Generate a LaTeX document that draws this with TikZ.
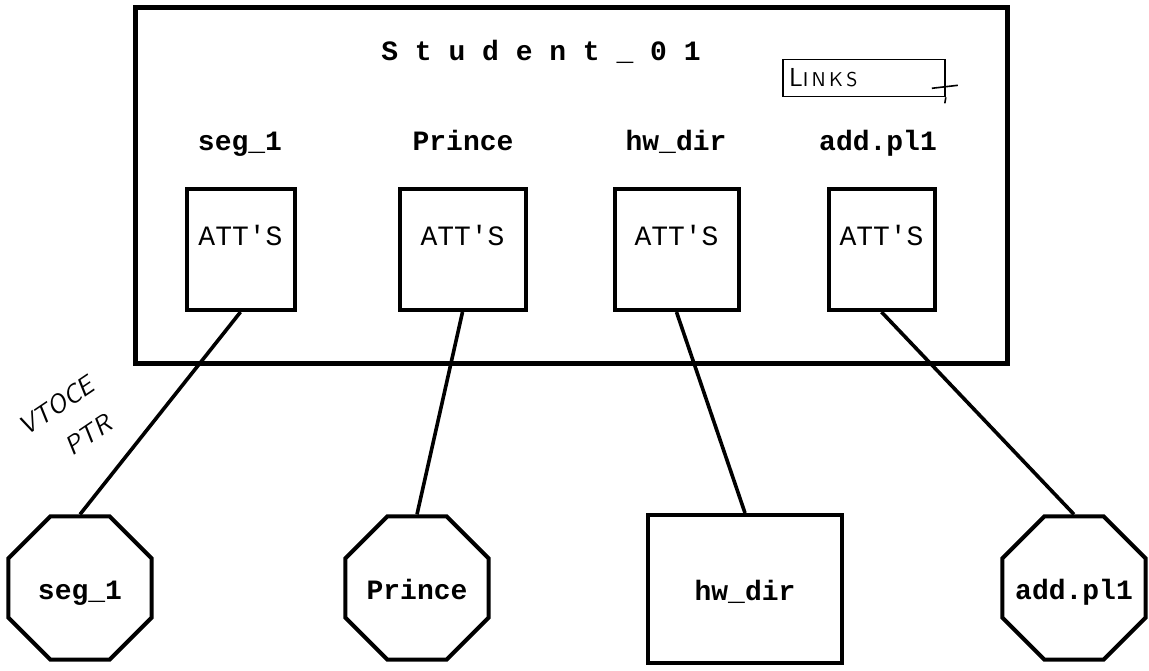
\documentclass[tikz,border=0pt]{standalone}
\usepackage{fontspec}
\setmonofont{Liberation Mono}
\usetikzlibrary{shapes.geometric}

\begin{document}
\begin{tikzpicture}[x=0.5pt, y=-0.5pt,
  every node/.style={font=\ttfamily\fontsize{14}{16}\selectfont},
  lbl/.style={font=\ttfamily\bfseries\fontsize{14}{16}\selectfont},
  att/.style={draw, line width=2pt, anchor=north, inner sep=0pt, text height=28pt, text depth=32.5pt},
  octo/.style={draw, regular polygon, regular polygon sides=8, line width=2pt, minimum size=77.5pt, inner sep=0pt, text height=11pt, text depth=0pt, lbl},
  hand/.style={font=\sffamily\itshape\fontsize{13}{21}\selectfont},
  link/.style={line width=1.8pt}]
  \useasboundingbox (0,0) rectangle (1149,670);

  % the directory
  \node[draw, line width=2.5pt, minimum width=436pt, minimum height=178pt] (stud) at (571,185) {};
  \node[lbl, anchor=base] (title) at (541,60) {S t u d e n t \_\ 0 1};
  \node[draw, line width=0.8pt, minimum height=18.5pt, text width=75pt, inner xsep=3pt, align=left, font=\sffamily] (links) at (864,78)
    {{\fontsize{13}{14}\selectfont L}{\fontsize{10}{11}\selectfont I\,N\,K\,S}};
  \draw[line width=0.8pt] ([shift={(-14,-9)}]links.south east) -- ++(26,-3);
  \draw[line width=0.8pt] (links.south east) -- ++(-1,6);

  % entry names
  \node[lbl, anchor=base] (n1) at (240,150) {seg\_1};
  \node[lbl, anchor=base] (n2) at (463,150) {Prince};
  \node[lbl, anchor=base] (n3) at (676,150) {hw\_dir};
  \node[lbl, anchor=base] (n4) at (878,150) {add.pl1};

  % attribute boxes
  \node[att, minimum width=54pt] (att1) at (240.5,187) {ATT'S};
  \node[att, minimum width=63pt] (att2) at (462.5,187) {ATT'S};
  \node[att, minimum width=62pt] (att3) at (676.5,187) {ATT'S};
  \node[att, minimum width=53pt] (att4) at (881.5,187) {ATT'S};

  % segments below
  \node[octo] (oct1) at (80,588) {\makebox[0pt]{seg\_1}};
  \node[octo] (oct2) at (417,588) {\makebox[0pt]{Prince}};
  \node[draw, line width=2pt, minimum width=97pt, minimum height=74pt, inner sep=0pt, text height=11pt, text depth=0pt, lbl] (hwdir) at (745,589) {hw\_dir};
  \node[octo] (oct4) at (1074,588) {\makebox[0pt]{add.pl1}};

  \draw[link] (att1.south) -- (oct1.north);
  \draw[link] (att2.south) -- (oct2.north);
  \draw[link] (att3.south) -- (hwdir.north);
  \draw[link] (att4.south) -- (oct4.north);

  % pencil note
  \node[hand, rotate=34, align=center] (note) at (68,423) {VTOCE\\\hspace*{10pt}PTR};
\end{tikzpicture}
\end{document}
